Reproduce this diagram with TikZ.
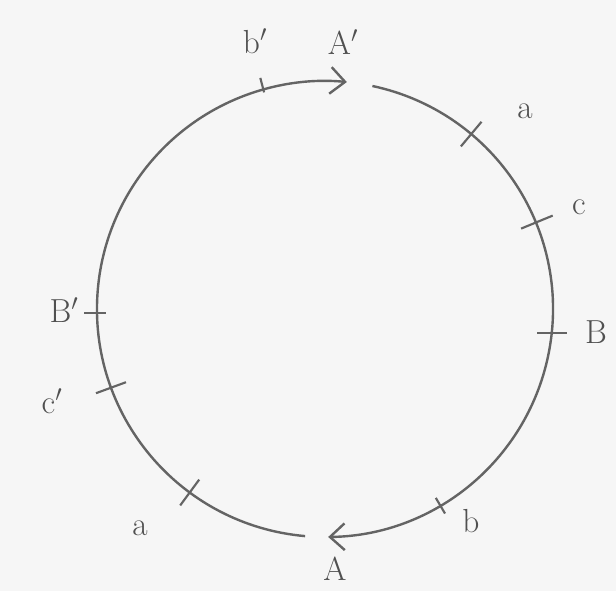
\documentclass[tikz,border=0pt]{standalone}
\usetikzlibrary{arrows.meta}
\definecolor{paper}{RGB}{246,246,246}
\definecolor{pencil}{RGB}{100,100,100}
\definecolor{inkgray}{RGB}{80,80,80}

\begin{document}
\begin{tikzpicture}[x=0.75pt,y=0.75pt,yscale=-1,xscale=1,
  ring/.style={color=pencil,line width=1.8pt},
  tick/.style={color=pencil,line width=1.6pt},
  lbl/.style={color=inkgray,inner sep=0.75pt,font=\fontsize{25}{28}\selectfont}]
%set diagram left start at 0, and has height of 591
\fill [paper] (0,0) rectangle (616,591);

%Shape: Arc, left half, ends at A'
\draw [ring,-{Straight Barb[length=11pt,width=20pt]}] (305.1,536.1) arc [start angle=95, end angle=275.5, radius=228];
%Shape: Arc, right half, ends at A
\draw [ring,-{Straight Barb[length=11pt,width=20pt]}] (372.4,86.0) arc [start angle=-78, end angle=89.2, radius=228];

%Straight Lines: ticks
\draw [tick] (264.1,92.4) -- (260.3,77.9) ;
\draw [tick] (460.9,146.4) -- (481.5,121.8) ;
\draw [tick] (521.1,228.6) -- (552.7,215.6) ;
\draw [tick] (537,332.8) -- (567,332.8) ;
\draw [tick] (84,313) -- (106,313) ;
\draw [tick] (96.0,393.2) -- (126.0,382.2) ;
\draw [tick] (180.2,505.4) -- (199.2,479.6) ;
\draw [tick] (435.8,497.9) -- (445.0,513.5) ;

% Text Node
\node [lbl] (lbA) at (335,569) {A};
% Text Node
\node [lbl] (lbAp) at (343,42) {A$'$};
% Text Node
\node [lbl] (lbbp) at (255,41) {b$'$};
% Text Node
\node [lbl] (lbaup) at (525,111) {a};
% Text Node
\node [lbl] (lbc) at (579,207) {c};
% Text Node
\node [lbl] (lbB) at (596,332) {B};
% Text Node
\node [lbl] (lbBp) at (64,310) {B$'$};
% Text Node
\node [lbl] (lbcp) at (52,401) {c$'$};
% Text Node
\node [lbl] (lbalow) at (140,528) {a};
% Text Node
\node [lbl] (lbb) at (471,521) {b};

\end{tikzpicture}
\end{document}
